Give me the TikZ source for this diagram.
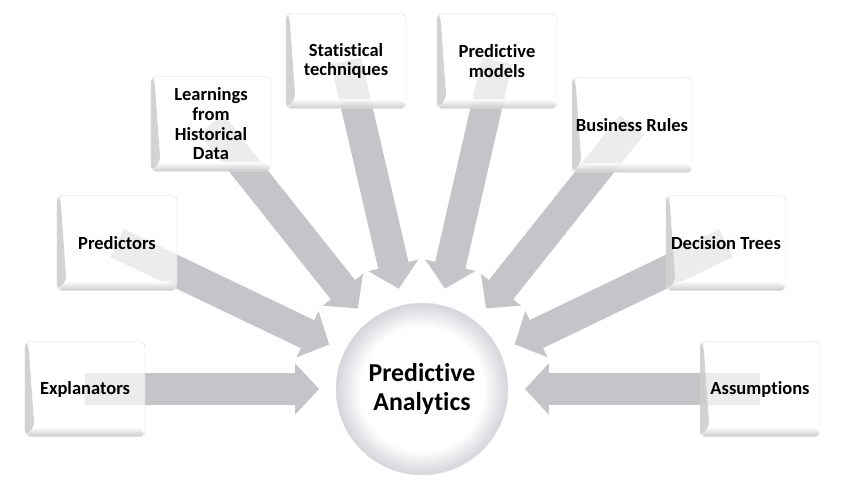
\documentclass[tikz,border=0pt]{standalone}
\usepackage{fontspec}
\setmainfont{Carlito}[Ligatures=NoCommon]
\usetikzlibrary{arrows.meta,backgrounds}

\definecolor{arrowgray}{RGB}{196,196,201}
\definecolor{rimgray}{RGB}{212,212,218}
\pgfdeclareradialshading{hubshade}{\pgfpoint{0bp}{0bp}}{color(0bp)=(white); color(18bp)=(white); color(25bp)=(rimgray); color(50bp)=(rimgray)}

\newcommand{\boxfont}{\fontsize{15.8}{16.8}\selectfont\bfseries}
\newcommand{\hubfont}{\fontsize{22}{25}\selectfont\bfseries}

\begin{document}
\begin{tikzpicture}[x=0.03cm, y=-0.03cm,
    box/.style={rectangle, rounded corners=5pt, draw=gray!25, fill=white,
        fill opacity=0.68, text opacity=1, minimum width=3.6cm, minimum height=2.85cm,
        inner sep=1pt, align=center, font=\boxfont,
        path picture={
            \shade[left color=gray!45, right color=white, fill opacity=0.8]
                (path picture bounding box.south west) -- (path picture bounding box.north west)
                -- ([shift={(3pt,-3pt)}]path picture bounding box.north west)
                -- ([shift={(8pt,8pt)}]path picture bounding box.south west) -- cycle;
            \shade[bottom color=gray!50, top color=white, fill opacity=0.8]
                (path picture bounding box.south west)
                -- ([shift={(8pt,8pt)}]path picture bounding box.south west)
                -- ([shift={(-3pt,8pt)}]path picture bounding box.south east)
                -- (path picture bounding box.south east) -- cycle;
        }},
    hub/.style={circle, minimum size=5.16cm, draw=gray!20, shading=hubshade,
        align=center, font=\hubfont},
    flow/.style={draw=arrowgray, line width=0.93cm,
        -{Triangle[width=1.5cm, length=0.72cm]}, shorten >=0.5cm}]
    \useasboundingbox (0,0) rectangle (843,489);

    % centre
    \node[hub] (hub) at (422, 389) {Predictive\\Analytics};

    % boxes, left to right
    \node[box] (expl) at (85, 389) {Explanators};
    \node[box] (pred) at (117, 243) {Predictors};
    \node[box] (learn) at (211, 124) {Learnings\\from\\Historical\\Data};
    \node[box] (stat) at (346, 61) {Statistical\\techniques};
    \node[box] (models) at (497, 61) {Predictive\\models};
    \node[box] (rules) at (632, 125) {Business Rules};
    \node[box] (trees) at (726, 243) {Decision Trees};
    \node[box] (assum) at (760, 389) {Assumptions};

    % arrows into the centre, behind the boxes
    \begin{pgfonlayer}{background}
        \foreach \b in {expl, pred, learn, stat, models, rules, trees, assum}
            \draw[flow] (\b.center) -- (hub);
    \end{pgfonlayer}
\end{tikzpicture}
\end{document}
